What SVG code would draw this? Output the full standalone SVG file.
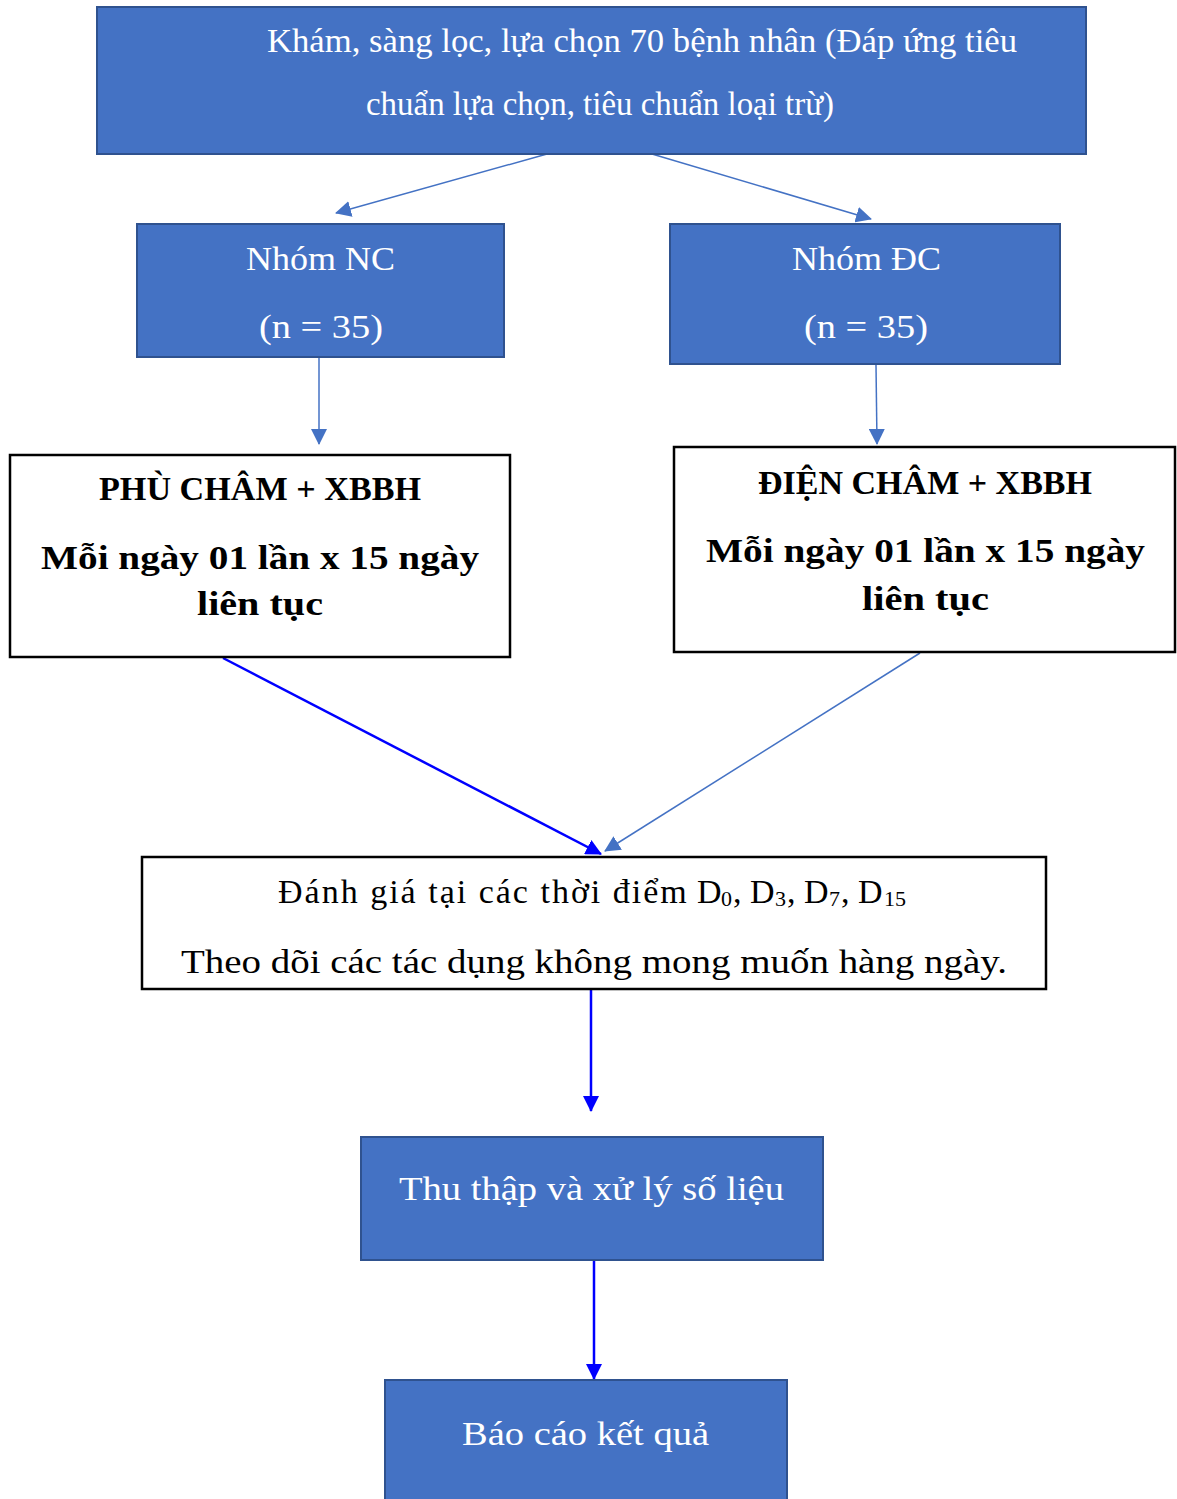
<svg xmlns="http://www.w3.org/2000/svg" width="1177" height="1499" viewBox="0 0 1177 1499">
<style>
.blue{fill:#4472C4;stroke:#2F528F;stroke-width:2}
.white{fill:#FFFFFF;stroke:#000000;stroke-width:2.5}
.t{font-family:"Liberation Serif","DejaVu Serif",serif;fill:#FFFFFF;font-size:34px}
.tn{font-family:"Liberation Serif","DejaVu Serif",serif;fill:#000000;font-size:34px}
.tb{font-family:"Liberation Serif","DejaVu Serif",serif;fill:#000000;font-size:34px;font-weight:bold}
.c1{stroke:#4472C4;stroke-width:1.5;fill:none}
.c2{stroke:#0000FF;stroke-width:2.5;fill:none}
</style>
<defs>
<marker id="ah1" markerUnits="userSpaceOnUse" markerWidth="16" markerHeight="16" viewBox="0 0 16 16" refX="15" refY="8" orient="auto"><path d="M0,0 L16,8 L0,16 Z" fill="#4472C4"/></marker>
<marker id="ah2" markerUnits="userSpaceOnUse" markerWidth="16" markerHeight="16" viewBox="0 0 16 16" refX="15" refY="8" orient="auto"><path d="M0,0 L16,8 L0,16 Z" fill="#0000FF"/></marker>
</defs>
<g id="connectors">
<line class="c1" x1="547" y1="154" x2="336" y2="213" marker-end="url(#ah1)"/>
<line class="c1" x1="652" y1="154" x2="871" y2="219" marker-end="url(#ah1)"/>
<line class="c1" x1="319" y1="358" x2="319" y2="444" marker-end="url(#ah1)"/>
<line class="c1" x1="876" y1="365" x2="877" y2="444" marker-end="url(#ah1)"/>
<line class="c2" x1="223" y1="658" x2="601" y2="854" marker-end="url(#ah2)"/>
<line class="c1" x1="920" y1="653" x2="605" y2="851" marker-end="url(#ah1)"/>
<line class="c2" x1="591" y1="990" x2="591" y2="1111" marker-end="url(#ah2)"/>
<line class="c2" x1="594" y1="1261" x2="594" y2="1379" marker-end="url(#ah2)"/>
</g>
<g id="node-screening">
<rect class="blue" x="97" y="7" width="989" height="147"/>
<text class="t" x="267" y="52" font-size="36" textLength="750" lengthAdjust="spacingAndGlyphs">Khám, sàng lọc, lựa chọn 70 bệnh nhân (Đáp ứng tiêu</text>
<text class="t" x="366" y="115" font-size="36" textLength="468" lengthAdjust="spacingAndGlyphs">chuẩn lựa chọn, tiêu chuẩn loại trừ)</text>
</g>
<g id="node-nc">
<rect class="blue" x="137" y="224" width="367" height="133"/>
<text class="t" x="246" y="270" textLength="149" lengthAdjust="spacingAndGlyphs">Nhóm NC</text>
<text class="t" x="259" y="338" textLength="124" lengthAdjust="spacingAndGlyphs">(n = 35)</text>
</g>
<g id="node-dc">
<rect class="blue" x="670" y="224" width="390" height="140"/>
<text class="t" x="792" y="270" textLength="149" lengthAdjust="spacingAndGlyphs">Nhóm ĐC</text>
<text class="t" x="804" y="338" textLength="124" lengthAdjust="spacingAndGlyphs">(n = 35)</text>
</g>
<g id="node-phucham">
<rect class="white" x="10" y="455" width="500" height="202"/>
<text class="tb" x="99" y="500" textLength="322" lengthAdjust="spacingAndGlyphs">PHÙ CHÂM + XBBH</text>
<text class="tb" x="41" y="569" textLength="438" lengthAdjust="spacingAndGlyphs">Mỗi ngày 01 lần x 15 ngày</text>
<text class="tb" x="197" y="615" textLength="126" lengthAdjust="spacingAndGlyphs">liên tục</text>
</g>
<g id="node-diencham">
<rect class="white" x="674" y="447" width="501" height="205"/>
<text class="tb" x="758" y="494" textLength="334" lengthAdjust="spacingAndGlyphs">ĐIỆN CHÂM + XBBH</text>
<text class="tb" x="706" y="562" textLength="439" lengthAdjust="spacingAndGlyphs">Mỗi ngày 01 lần x 15 ngày</text>
<text class="tb" x="862" y="610" textLength="127" lengthAdjust="spacingAndGlyphs">liên tục</text>
</g>
<g id="node-eval">
<rect class="white" x="142" y="857" width="904" height="132"/>
<text class="tn" y="903"><tspan x="278" letter-spacing="2">Đánh giá tại các thời điểm</tspan><tspan x="697">D</tspan><tspan x="721" y="906" font-size="22">0</tspan><tspan x="733" y="903">, D</tspan><tspan x="775" y="906" font-size="22">3</tspan><tspan x="787" y="903">, D</tspan><tspan x="829" y="906" font-size="22">7</tspan><tspan x="841" y="903">, D</tspan><tspan x="884" y="906" font-size="22">15</tspan></text>
<text class="tn" x="181" y="973" textLength="826" lengthAdjust="spacingAndGlyphs">Theo dõi các tác dụng không mong muốn hàng ngày.</text>
</g>
<g id="node-collect">
<rect class="blue" x="361" y="1137" width="462" height="123"/>
<text class="t" x="399" y="1200" textLength="385" lengthAdjust="spacingAndGlyphs">Thu thập và xử lý số liệu</text>
</g>
<g id="node-report">
<rect class="blue" x="385" y="1380" width="402" height="125"/>
<text class="t" x="462" y="1445" textLength="247" lengthAdjust="spacingAndGlyphs">Báo cáo kết quả</text>
</g>
</svg>
